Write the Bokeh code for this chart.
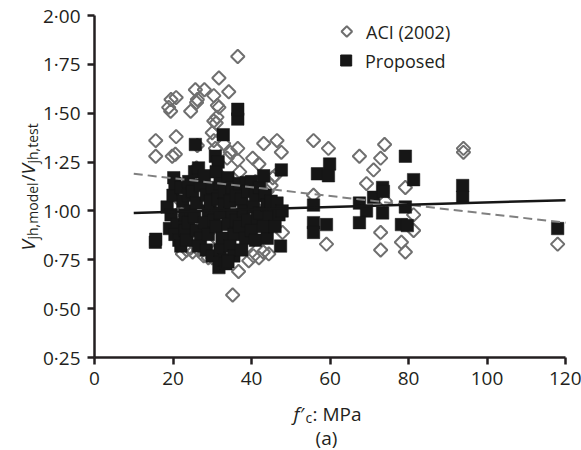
import math
from bokeh.plotting import figure
from bokeh.models import (Range1d, FixedTicker, CustomJSTickFormatter, Label,
                          ColumnDataSource)
from bokeh.embed import file_html
from bokeh.resources import INLINE

# ---------------- data ----------------
aci_fc = [36.5, 31.7, 34.2, 30.4, 28.0, 25.7, 26.2, 24.5, 31.7, 31.2, 31.0, 20.8,
          19.5, 18.9, 19.4, 15.6, 20.8, 15.6, 19.8, 20.6, 30.0, 30.4, 30.8, 36.5,
          36.5, 40.3, 41.9, 43.1, 46.5, 47.6, 26.2, 33.8, 34.6, 32.9, 43.1, 45.4,
          31.3, 30.4, 26.0,
          35.2, 36.7, 39.3, 41.9, 44.4, 47.9, 22.4, 25.0, 27.8, 23.5, 26.5, 21.9,
          24.5, 26.5, 29.0, 40.5, 43.0,
          55.8, 59.6, 67.5, 73.9, 72.9, 71.1, 69.3, 79.2, 94.0, 94.0, 55.8, 74.1,
          81.3, 81.3, 72.9, 59.1, 72.9, 78.2, 79.2, 118.0,
          22.0, 25.0, 28.0, 30.0, 33.0, 35.0, 38.0, 40.0, 42.0, 44.0, 27.0, 31.0,
          36.0, 39.0, 43.0, 24.0, 29.0, 26.0, 32.0, 37.0, 41.0, 45.0, 46.0, 20.0,
          21.0, 34.0, 30.0, 23.0, 28.5, 33.5, 37.5, 41.5, 35.5, 39.5]
aci_ratio = [1.79, 1.68, 1.61, 1.59, 1.62, 1.62, 1.57, 1.51, 1.53, 1.48, 1.45, 1.58,
             1.57, 1.53, 1.51, 1.36, 1.38, 1.28, 1.28, 1.29, 1.40, 1.36, 1.32, 1.32,
             1.26, 1.27, 1.24, 1.345, 1.36, 1.30, 1.335, 1.27, 1.30, 1.345, 1.17, 1.17,
             1.54, 1.46, 1.555,
             0.57, 0.69, 0.745, 0.76, 0.78, 0.89, 0.78, 0.79, 0.77, 0.80, 0.80, 0.95,
             0.81, 0.86, 0.76, 0.77, 0.79,
             1.36, 1.32, 1.28, 1.34, 1.27, 1.21, 1.14, 1.12, 1.32, 1.30, 1.08, 1.05,
             0.98, 0.90, 0.89, 0.83, 0.80, 0.84, 0.79, 0.83,
             1.00, 1.15, 1.05, 0.98, 1.12, 1.02, 0.95, 1.07, 1.00, 1.10, 0.92, 0.86,
             0.84, 0.82, 0.95, 0.88, 0.83, 1.22, 1.18, 1.20, 1.15, 1.13, 1.18, 1.02,
             1.10, 0.78, 0.76, 1.08, 0.90, 0.98, 1.12, 1.04, 0.93, 0.88]

prop_fc = [15.5, 15.6, 19.1,
           18.5, 19.5, 20.0, 20.5, 20.2, 21.0, 20.5, 21.5,
           22.0, 22.5, 23.0, 23.0, 22.0, 24.0, 24.0, 23.5, 24.5, 24.0,
           25.7, 25.5, 26.5, 25.0, 26.0, 25.5, 26.0, 27.0, 26.5, 27.0,
           28.0, 28.5, 29.0, 28.0, 29.0, 28.5, 30.0, 30.0, 29.5, 30.5,
           30.8, 31.5, 31.0, 32.0, 31.5, 32.0, 31.0, 32.5, 32.0, 31.7, 33.0, 32.8, 33.0, 33.0, 33.5,
           34.0, 35.0, 34.5, 35.0, 34.0, 35.5, 34.5, 35.5, 34.0, 36.0, 36.0, 36.5, 36.5,
           37.0, 38.6, 37.5, 38.0, 37.0, 38.5, 37.5, 39.0, 39.0,
           40.0, 41.0, 40.5, 41.5, 40.0, 41.0, 42.0, 42.0,
           43.1, 43.5, 44.0, 44.5, 44.0, 43.0, 45.0,
           47.6, 46.5, 47.0, 47.4, 47.8, 46.0,
           55.8, 55.8, 55.8, 56.8, 59.9, 59.6, 59.1, 67.5, 69.3, 67.5, 71.1, 73.4,
           73.6, 73.4, 79.2, 81.3, 79.2, 78.2, 79.7, 93.8, 93.8, 118.0]
prop_ratio = [0.84, 0.855, 0.91,
              1.02, 0.98, 1.08, 1.14, 1.17, 0.93, 0.88, 0.85,
              1.12, 1.05, 0.98, 0.90, 0.82, 1.15, 1.08, 0.85, 1.00, 0.94,
              1.34, 1.20, 1.22, 1.10, 1.04, 0.97, 0.90, 0.86, 0.82, 1.13,
              1.18, 1.08, 1.00, 0.94, 0.88, 0.80, 0.77, 1.12, 1.05, 0.95,
              1.28, 1.25, 1.20, 1.14, 1.06, 0.99, 0.92, 0.86, 0.80, 0.71, 0.75, 1.39, 1.10, 1.03, 0.73,
              1.17, 1.12, 1.05, 0.98, 0.93, 0.88, 0.82, 0.77, 0.74, 1.08, 0.95, 1.47, 1.52,
              1.14, 1.145, 1.06, 1.00, 0.92, 0.86, 0.80, 0.95, 1.10,
              1.15, 1.08, 1.02, 0.96, 0.90, 0.85, 1.12, 0.99,
              1.18, 1.08, 1.03, 0.97, 0.86, 0.92, 1.05,
              1.21, 1.04, 0.98, 0.82, 1.00, 0.92,
              1.03, 0.94, 0.89, 1.19, 1.24, 1.18, 0.93, 1.04, 1.00, 0.94, 1.07, 1.12,
              1.10, 0.99, 1.28, 1.16, 1.02, 0.93, 0.925, 1.13, 1.07, 0.91]

trend_fc = [10, 120]
aci_trend = [1.19, 0.94]
prop_trend = [0.99, 1.055]

x_ticks = [0, 20, 40, 60, 80, 100, 120]
y_ticks = [0.25, 0.50, 0.75, 1.00, 1.25, 1.50, 1.75, 2.00]
x_lim = (0, 120)
y_lim = (0.25, 2.00)

series_names = ["ACI (2002)", "Proposed"]

INK = "#231f20"
GREY = "#6f6f6f"
FONT = "Open Sans"

# canvas layout (pixels): plotting area inside the canvas
W, H = 581, 450
AX_L, AX_R, AX_T, AX_B = 94, 565, 15, 357
sx = (AX_R - AX_L) / (x_lim[1] - x_lim[0])
sy = (AX_B - AX_T) / (y_lim[1] - y_lim[0])
x_range = Range1d(x_lim[0] - AX_L / sx, x_lim[1] + (W - AX_R) / sx)
y_range = Range1d(y_lim[0] - (H - AX_B) / sy, y_lim[1] + AX_T / sy)

p = figure(frame_width=W, frame_height=H,
           min_border_left=0, min_border_right=0,
           min_border_top=0, min_border_bottom=0,
           x_range=x_range, y_range=y_range,
           output_backend="svg", toolbar_location=None)

p.grid.visible = False
p.outline_line_color = None
p.background_fill_color = "white"
p.border_fill_color = "white"

xa, ya = p.xaxis[0], p.yaxis[0]
xa.fixed_location = y_lim[0]
ya.fixed_location = x_lim[0]
xa.bounds = x_lim
ya.bounds = y_lim
for ax in (xa, ya):
    ax.axis_line_color = INK
    ax.axis_line_width = 2.5
    ax.major_tick_line_color = INK
    ax.major_tick_line_width = 2.5
    ax.major_tick_out = 7
    ax.major_tick_in = 0
    ax.minor_tick_out = 0
    ax.minor_tick_in = 0
    ax.major_label_text_font = FONT
    ax.major_label_text_font_size = "19px"
    ax.major_label_text_color = INK

xa.ticker = FixedTicker(ticks=x_ticks)
ya.ticker = FixedTicker(ticks=y_ticks)
xa.major_label_standoff = 7
ya.major_label_standoff = 7
xa.formatter = CustomJSTickFormatter(code="return tick.toFixed(0);")
ya.formatter = CustomJSTickFormatter(code="return tick.toFixed(2).replace('.', '\\u00b7');")

aci_src = ColumnDataSource(dict(x=aci_fc, y=aci_ratio))
prop_src = ColumnDataSource(dict(x=prop_fc, y=prop_ratio))

p.scatter("x", "y", source=aci_src, marker="square", angle=math.pi / 4,
          size=9.5, fill_color=None, line_color=GREY, line_width=2)
p.scatter("x", "y", source=prop_src, marker="square", size=12.5,
          fill_color="#161616", line_color="#161616", line_width=0.5)

p.line(trend_fc, aci_trend, line_color="#808080", line_width=2, line_dash="9 5")
p.line(trend_fc, prop_trend, line_color="#161616", line_width=2.5)

# ---- legend (keys placed in screen pixels via the range scale) ----
def px_to_x(px):
    return x_range.start + px / sx

def py_to_y(py):
    return y_range.end - py / sy

leg_key_x = [px_to_x(346.3), px_to_x(345.7)]
leg_key_y = [py_to_y(31), py_to_y(60)]
p.scatter([leg_key_x[0]], [leg_key_y[0]], marker="square", angle=math.pi / 4,
          size=7.5, fill_color=None, line_color=GREY, line_width=2)
p.scatter([leg_key_x[1]], [leg_key_y[1]], marker="square", size=11,
          fill_color="#161616", line_color="#161616")


def lab(text, x, y, size, style="normal", angle=0.0, align="left",
        baseline="alphabetic"):
    p.add_layout(Label(x=x, y=y, x_units="screen", y_units="screen", text=text,
                       angle=angle, text_font=FONT, text_font_size=size,
                       text_font_style=style, text_color=INK, text_align=align,
                       text_baseline=baseline))

lab(series_names[0], 365.5, H - 31, "18px", baseline="middle")
lab(series_names[1], 364.5, H - 60, "18px", baseline="middle")

# y axis label, rotated, built from pieces (screen y measured upward)
A = math.pi / 2
y0 = 200
lab("V", 27, y0, "19px", "italic", A)
lab("jh,model", 32, y0 + 11, "14px", "normal", A)
lab("/", 27, y0 + 69, "19px", "normal", A)
lab("V", 27, y0 + 76, "19px", "italic", A)
lab("jh,test", 32, y0 + 87, "14px", "normal", A)

# x axis label
lab("f\u2032", 293, H - 413, "19px", "italic")
lab("c", 305, H - 417, "14px", "normal")
lab(": MPa", 312, H - 413, "19px", "normal")
lab("(a)", 326, H - 437, "19px", "normal", 0.0, "center")

open("out.html", "w").write(file_html(p, INLINE))
